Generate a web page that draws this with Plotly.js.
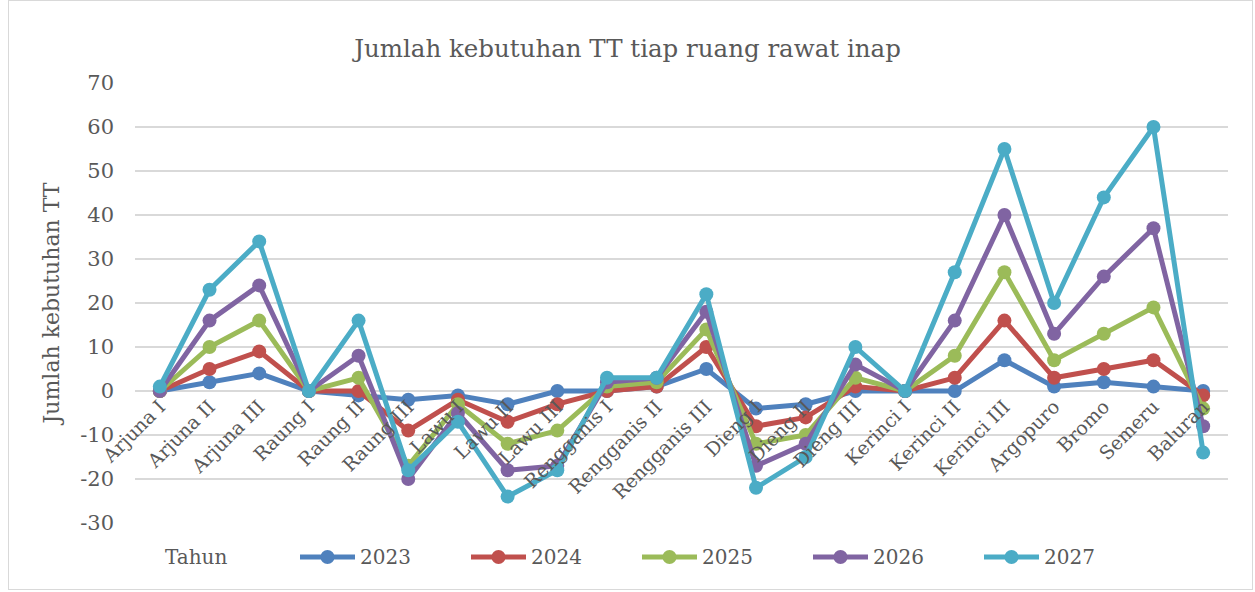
<!DOCTYPE html>
<html>
<head>
<meta charset="utf-8">
<script src="https://cdn.plot.ly/plotly-3.0.1.min.js"></script>
<style>
  html, body { margin: 0; padding: 0; background: #fff; }
  #wrap { position: relative; width: 1255px; height: 592px; }
  #chart { width: 1255px; height: 592px; }
  #frame { position: absolute; left: 8px; top: 0px; width: 1245px; height: 590px; border: 1px solid #d9d9d9; pointer-events: none; box-sizing: border-box; }
</style>
</head>
<body>
<div id="wrap"><div id="chart"></div><div id="frame"></div></div>
<script>
const categories = ["Arjuna I","Arjuna II","Arjuna III","Raung I","Raung II","Raung III","Lawu I","Lawu II","Lawu III","Rengganis I","Rengganis II","Rengganis III","Dieng I","Dieng II","Dieng III","Kerinci I","Kerinci II","Kerinci III","Argopuro","Bromo","Semeru","Baluran"];
const seriesNames = ["2023","2024","2025","2026","2027"];
const v2023 = [0, 2, 4, 0, -1, -2, -1, -3, 0, 0, 1, 5, -4, -3, 0, 0, 0, 7, 1, 2, 1, 0];
const v2024 = [0, 5, 9, 0, 0, -9, -2, -7, -3, 0, 1, 10, -8, -6, 1, 0, 3, 16, 3, 5, 7, -1];
const v2025 = [0, 10, 16, 0, 3, -17, -3, -12, -9, 1, 2, 14, -12, -10, 3, 0, 8, 27, 7, 13, 19, -4];
const v2026 = [0, 16, 24, 0, 8, -20, -5, -18, -17, 2, 3, 18, -17, -12, 6, 0, 16, 40, 13, 26, 37, -8];
const v2027 = [1, 23, 34, 0, 16, -18, -7, -24, -18, 3, 3, 22, -22, -15, 10, 0, 27, 55, 20, 44, 60, -14];
const yTicks = [-30, -20, -10, 0, 10, 20, 30, 40, 50, 60, 70];
const legendTitle = "Tahun";

const colors = ["#4f81bd", "#c0504d", "#9bbb59", "#8064a2", "#4bacc6"];
const allValues = [v2023, v2024, v2025, v2026, v2027];
const font = "DejaVu Serif";
const textColor = "#595959";

const W = 1255, H = 592;
const M = { l: 135, r: 27, t: 83, b: 69 };
const plotW = W - M.l - M.r, plotH = H - M.t - M.b;
const px2x = px => (px - M.l) / plotW;
const py2y = py => (H - M.b - py) / plotH;

const traces = allValues.map((vals, i) => ({
  type: "scatter",
  mode: "lines+markers",
  name: seriesNames[i],
  x: categories,
  y: vals,
  line: { color: colors[i], width: 5 },
  marker: { color: colors[i], size: 14 },
  cliponaxis: false,
  showlegend: false
}));

// custom legend (Excel style: long line with centred marker)
const legY = 557, legStart = 300, legStep = 171, legLine = 55, mr = 7;
const shapes = [];
const annotations = [{
  xref: "paper", yref: "paper",
  x: px2x(163), y: py2y(legY), xanchor: "left", yanchor: "middle",
  text: legendTitle, showarrow: false,
  font: { family: font, size: 20, color: textColor }
}];
seriesNames.forEach((name, i) => {
  const x0 = legStart + i * legStep;
  shapes.push({
    type: "line", xref: "paper", yref: "paper",
    x0: px2x(x0), x1: px2x(x0 + legLine), y0: py2y(legY), y1: py2y(legY),
    line: { color: colors[i], width: 5 }
  });
  const cx = x0 + legLine / 2;
  shapes.push({
    type: "circle", xref: "paper", yref: "paper",
    x0: px2x(cx - mr), x1: px2x(cx + mr), y0: py2y(legY + mr), y1: py2y(legY - mr),
    fillcolor: colors[i], line: { color: colors[i], width: 0 }
  });
  annotations.push({
    xref: "paper", yref: "paper",
    x: px2x(x0 + legLine + 3), y: py2y(legY), xanchor: "left", yanchor: "middle",
    text: name, showarrow: false,
    font: { family: font, size: 20, color: textColor }
  });
});

const layout = {
  width: W,
  height: H,
  margin: M,
  paper_bgcolor: "#fff",
  plot_bgcolor: "#fff",
  font: { family: font, color: textColor },
  title: {
    text: "Jumlah kebutuhan TT tiap ruang rawat inap",
    font: { family: font, size: 24.5, color: textColor },
    x: 0.5, xanchor: "center", y: 0.918, yanchor: "middle"
  },
  xaxis: {
    type: "category",
    range: [-0.5, 21.5],
    anchor: "free",
    position: 0.3,
    showline: false,
    showgrid: false,
    zeroline: false,
    ticks: "",
    tickangle: -45,
    tickfont: { family: font, size: 19, color: textColor },
    fixedrange: true
  },
  yaxis: {
    range: [-30, 70],
    tickvals: yTicks,
    ticktext: yTicks.map(String),
    showgrid: true,
    gridcolor: "#d9d9d9",
    gridwidth: 1.5,
    zeroline: false,
    showline: false,
    ticks: "",
    ticklabelstandoff: 20,
    tickfont: { family: font, size: 21, color: textColor },
    title: { text: "Jumlah kebutuhan TT", font: { family: font, size: 22, color: textColor }, standoff: 14 },
    automargin: false
  },
  shapes: shapes,
  annotations: annotations,
  showlegend: false
};

Plotly.newPlot("chart", traces, layout, { staticPlot: true, displayModeBar: false });
</script>
</body>
</html>
